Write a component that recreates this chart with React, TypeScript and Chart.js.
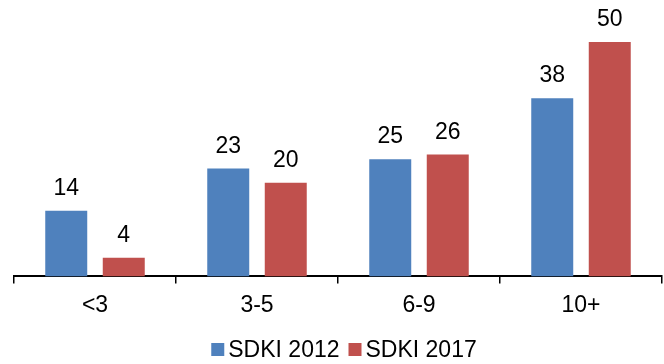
import React, { useEffect, useRef } from "react";
import { Chart, registerables } from "chart.js";

Chart.register(...registerables);

const categories = ["<3", "3-5", "6-9", "10+"];
const series2012 = [14, 23, 25, 38];
const series2017 = [4, 20, 26, 50];
const seriesNames = ["SDKI 2012", "SDKI 2017"];
const seriesColors = ["#4F81BD", "#C0504D"];
const FONT = "'Liberation Sans', Arial, sans-serif";

const labelPlugin = {
  id: "valueLabels",
  afterDatasetsDraw(chart: any) {
    const ctx = chart.ctx;
    ctx.save();
    ctx.font = `23px ${FONT}`;
    ctx.fillStyle = "#000";
    ctx.textAlign = "center";
    ctx.textBaseline = "alphabetic";
    chart.data.datasets.forEach((ds: any, i: number) => {
      const meta = chart.getDatasetMeta(i);
      meta.data.forEach((bar: any, j: number) => {
        ctx.fillText(String(ds.data[j]), bar.x, bar.y - 16);
      });
    });
    ctx.restore();
  },
};

const legendPlugin = {
  id: "customLegend",
  afterDraw(chart: any) {
    const ctx = chart.ctx;
    ctx.save();
    ctx.font = `23px ${FONT}`;
    ctx.textBaseline = "alphabetic";
    ctx.textAlign = "left";
    const box = 13;
    const gapBoxText = 4;
    const gapItems = 9;
    const widths = chart.data.datasets.map((d: any) => ctx.measureText(d.label).width);
    const total =
      widths.reduce((a: number, w: number) => a + w + box + gapBoxText, 0) +
      gapItems * (widths.length - 1);
    let x = 344 - total / 2;
    const baseline = 357;
    chart.data.datasets.forEach((d: any, i: number) => {
      ctx.fillStyle = d.backgroundColor;
      ctx.fillRect(x, baseline - 14, box, box);
      x += box + gapBoxText;
      ctx.fillStyle = "#000";
      ctx.fillText(d.label, x, baseline);
      x += widths[i] + gapItems;
    });
    ctx.restore();
  },
};

export default function App() {
  const ref = useRef<HTMLCanvasElement>(null);
  useEffect(() => {
    document.body.style.margin = "0";
    const chart = new Chart(ref.current!, {
      type: "bar",
      data: {
        labels: categories,
        datasets: [
          { label: seriesNames[0], data: series2012, backgroundColor: seriesColors[0] },
          { label: seriesNames[1], data: series2017, backgroundColor: seriesColors[1] },
        ],
      },
      options: {
        animation: false,
        responsive: false,
        maintainAspectRatio: false,
        datasets: { bar: { categoryPercentage: 0.71, barPercentage: 0.73 } },
        layout: { padding: { top: 42, left: 14, right: 2, bottom: 37 } },
        scales: {
          x: {
            offset: true,
            grid: {
              display: true,
              drawOnChartArea: false,
              drawTicks: true,
              tickLength: 7,
              color: "#000",
              lineWidth: 1.5,
              offset: true,
            },
            border: { display: true, color: "#000", width: 2 },
            ticks: { color: "#000", font: { family: FONT, size: 23 }, padding: 8 },
          },
          y: { display: false, min: 0, max: 50 },
        },
        plugins: {
          legend: { display: false },
          tooltip: { enabled: false },
        },
      },
      plugins: [labelPlugin, legendPlugin],
    });
    return () => chart.destroy();
  }, []);
  return (
    <div style={{ position: "fixed", left: 0, top: 0, width: 664, height: 364 }}>
      <canvas ref={ref} width={664} height={364} style={{ width: 664, height: 364 }} />
    </div>
  );
}
